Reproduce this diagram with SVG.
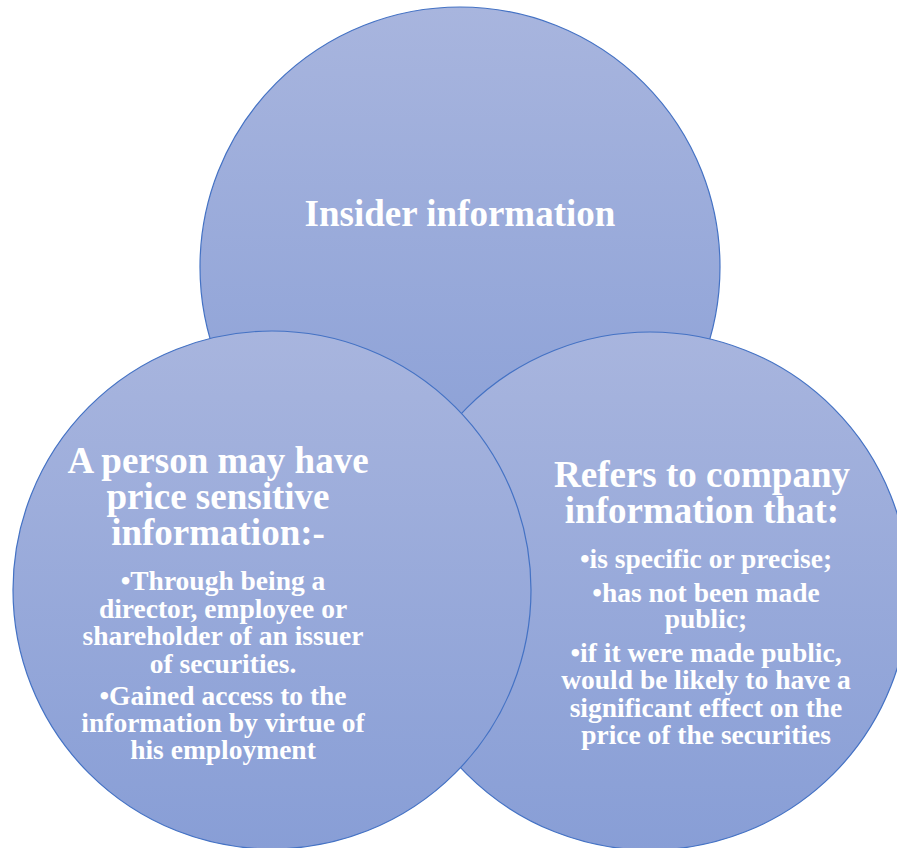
<svg xmlns="http://www.w3.org/2000/svg" width="897" height="848" viewBox="0 0 897 848">
<defs>
<linearGradient id="g" x1="0" y1="0" x2="0" y2="1">
<stop offset="0" stop-color="#a8b5de"/>
<stop offset="1" stop-color="#889ed6"/>
</linearGradient>
<style>
.c{fill:url(#g);stroke:#4472c4;stroke-width:1.2}
text{font-family:"Liberation Serif","DejaVu Serif",serif;font-weight:bold;fill:#ffffff;text-anchor:middle}
.h{font-size:37px}
.t{font-size:37px}
.b{font-size:27.5px}
</style>
</defs>
<g id="connectors"/>
<g id="top">
<circle class="c" cx="460" cy="267" r="260"/>
<text class="t" x="460" y="226">Insider information</text>
</g>
<g id="right">
<circle class="c" cx="650" cy="591" r="259"/>
<text class="h" x="702" y="487">Refers to company</text>
<text class="h" x="702" y="523">information that:</text>
<text class="b" x="706" y="568">•is specific or precise;</text>
<text class="b" x="706" y="602">•has not been made</text>
<text class="b" x="706" y="628">public;</text>
<text class="b" x="706" y="662">•if it were made public,</text>
<text class="b" x="706" y="689">would be likely to have a</text>
<text class="b" x="706" y="717">significant effect on the</text>
<text class="b" x="706" y="744">price of the securities</text>
</g>
<g id="left">
<circle class="c" cx="272" cy="590" r="259"/>
<text class="h" x="218" y="473">A person may have</text>
<text class="h" x="218" y="509">price sensitive</text>
<text class="h" x="218" y="545">information:-</text>
<text class="b" x="223" y="590">•Through being a</text>
<text class="b" x="223" y="618">director, employee or</text>
<text class="b" x="223" y="645">shareholder of an issuer</text>
<text class="b" x="223" y="673">of securities.</text>
<text class="b" x="223" y="705">•Gained access to the</text>
<text class="b" x="223" y="732">information by virtue of</text>
<text class="b" x="223" y="759">his employment</text>
</g>
</svg>
